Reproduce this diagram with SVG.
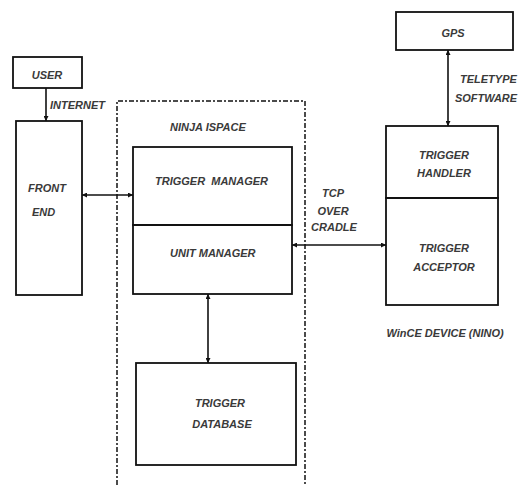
<svg xmlns="http://www.w3.org/2000/svg" width="520" height="485" viewBox="0 0 520 485">
<defs>
<style>
.box{fill:none;stroke:#111;stroke-width:1.8}
.lbl{font-family:"Liberation Sans",Arial,sans-serif;font-size:11px;font-weight:bold;font-style:italic;fill:#3a3a3a}
.mid{text-anchor:middle}
.con{stroke:#111;stroke-width:1.6;fill:none}
.bound{fill:none;stroke:#111;stroke-width:1.5;stroke-dasharray:5 2 2 2}
</style>
<marker id="ah" viewBox="0 0 6 6" refX="6" refY="3" markerWidth="5" markerHeight="5" markerUnits="userSpaceOnUse" orient="auto-start-reverse">
<path d="M0,0 L6,3 L0,6 Z" fill="#111"/>
</marker>
</defs>
<rect width="520" height="485" fill="#fff"/>
<g id="ninja-ispace">
<path class="bound" d="M117,485 V101 H305 V485"/>
<text class="lbl" x="170" y="131">NINJA ISPACE</text>
</g>
<g id="user">
<rect class="box" x="13" y="57" width="69" height="31"/>
<text class="lbl mid" x="47" y="79">USER</text>
</g>
<g id="front-end">
<rect class="box" x="16" y="121" width="66" height="174"/>
<text class="lbl" x="28" y="192">FRONT</text>
<text class="lbl" x="32" y="216">END</text>
</g>
<g id="trigger-manager">
<rect class="box" x="133" y="147" width="159" height="78"/>
<text class="lbl" x="155" y="185" xml:space="preserve">TRIGGER  MANAGER</text>
</g>
<g id="unit-manager">
<rect class="box" x="133" y="225" width="159" height="69"/>
<text class="lbl" x="170" y="257">UNIT MANAGER</text>
</g>
<g id="trigger-database">
<rect class="box" x="136" y="363" width="160" height="102"/>
<text class="lbl mid" x="220" y="407">TRIGGER</text>
<text class="lbl mid" x="222" y="428">DATABASE</text>
</g>
<g id="gps">
<rect class="box" x="396" y="12" width="117" height="38"/>
<text class="lbl mid" x="453" y="37">GPS</text>
</g>
<g id="trigger-handler">
<rect class="box" x="386" y="126" width="112" height="72"/>
<text class="lbl mid" x="444" y="159">TRIGGER</text>
<text class="lbl mid" x="444" y="177">HANDLER</text>
</g>
<g id="trigger-acceptor">
<rect class="box" x="386" y="198" width="112" height="107"/>
<text class="lbl mid" x="444" y="252">TRIGGER</text>
<text class="lbl mid" x="444" y="271">ACCEPTOR</text>
</g>
<g id="wince-device">
<text class="lbl mid" x="445" y="337">WinCE DEVICE (NINO)</text>
</g>
<g id="connectors">
<path class="con" d="M46,88 V121" marker-end="url(#ah)"/>
<text class="lbl" x="50" y="109">INTERNET</text>
<path class="con" d="M82,195 H133" marker-start="url(#ah)" marker-end="url(#ah)"/>
<path class="con" d="M292,245 H386" marker-start="url(#ah)" marker-end="url(#ah)"/>
<text class="lbl mid" x="333" y="197">TCP</text>
<text class="lbl mid" x="333" y="215">OVER</text>
<text class="lbl mid" x="334" y="231">CRADLE</text>
<path class="con" d="M448,50 V126" marker-start="url(#ah)" marker-end="url(#ah)"/>
<text class="lbl" x="460" y="83">TELETYPE</text>
<text class="lbl" x="455" y="102" textLength="62" lengthAdjust="spacingAndGlyphs">SOFTWARE</text>
<path class="con" d="M208,294 V363" marker-start="url(#ah)" marker-end="url(#ah)"/>
</g>
</svg>
